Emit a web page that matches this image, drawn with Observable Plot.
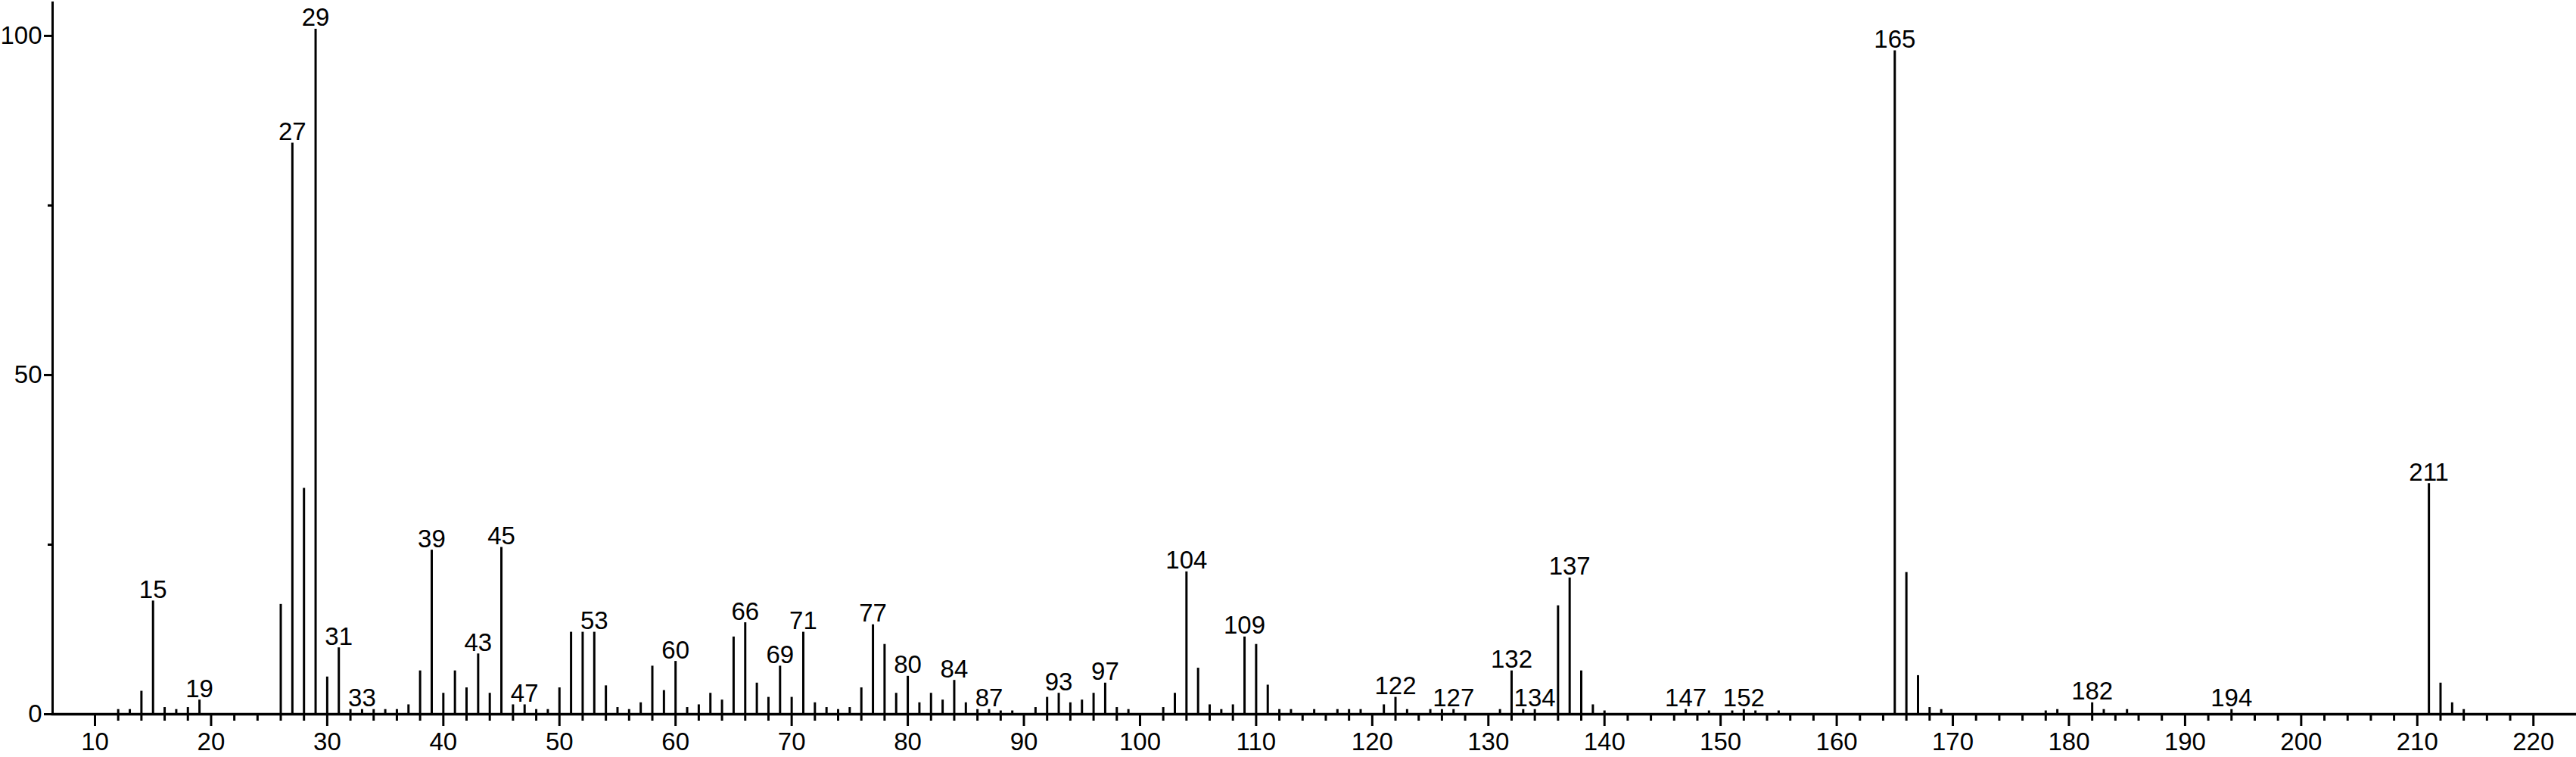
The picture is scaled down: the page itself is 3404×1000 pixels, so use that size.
<!DOCTYPE html>
<html>
<head>
<meta charset="utf-8">
<script src="https://cdn.jsdelivr.net/npm/d3@7"></script>
<script src="https://cdn.jsdelivr.net/npm/@observablehq/plot@0.6"></script>
<style>
  html, body { margin: 0; padding: 0; background: #fff; }
  #chart svg { display: block; }
</style>
</head>
<body>
<div id="chart"></div>
<script>
// m/z values of the peaks
const mz = [
  12, 13, 14, 15, 16, 17, 18, 19,
  26, 27, 28, 29, 30, 31, 32, 33, 34, 35, 36, 37, 38, 39,
  40, 41, 42, 43, 44, 45, 46, 47, 48, 49,
  50, 51, 52, 53, 54, 55, 56, 57, 58, 59,
  60, 61, 62, 63, 64, 65, 66, 67, 68, 69,
  70, 71, 72, 73, 74, 75, 76, 77, 78, 79,
  80, 81, 82, 83, 84, 85, 86, 87, 88, 89,
  91, 92, 93, 94, 95, 96, 97, 98, 99,
  102, 103, 104, 105, 106, 107, 108, 109,
  110, 111, 112, 113, 115, 117, 118, 119,
  121, 122, 123, 125, 126, 127, 131, 132, 133, 134,
  136, 137, 138, 139, 140,
  147, 149, 151, 152, 153, 155,
  165, 166, 167, 168, 169, 178, 179,
  182, 183, 185, 194,
  211, 212, 213, 214
];
// relative intensities (%)
const intensity = [
  0.7, 0.7, 3.4, 16.7, 1.0, 0.7, 1.0, 2.1,
  16.2, 84.2, 33.3, 101, 5.5, 9.8, 0.7, 0.7, 0.7, 0.7, 0.7, 1.4, 6.4, 24.2,
  3.1, 6.4, 3.9, 8.9, 3.1, 24.6, 1.4, 1.4, 0.7, 0.7,
  3.9, 12.1, 12.1, 12.1, 4.2, 1.0, 0.7, 1.7, 7.1, 3.5,
  7.8, 1.0, 1.4, 3.1, 2.1, 11.4, 13.5, 4.6, 2.5, 7.1,
  2.5, 12.1, 1.7, 1.0, 0.7, 1.0, 3.9, 13.2, 10.3, 3.1,
  5.6, 1.7, 3.1, 2.1, 5.0, 1.7, 0.7, 0.7, 0.5, 0.5,
  1.0, 2.5, 3.1, 1.7, 2.1, 3.1, 4.6, 1.0, 0.7,
  1.0, 3.1, 21.0, 6.8, 1.4, 0.7, 1.4, 11.4,
  10.3, 4.3, 0.7, 0.7, 0.7, 0.7, 0.7, 0.7,
  1.4, 2.5, 0.7, 0.7, 0.7, 0.7, 0.7, 6.4, 0.7, 0.7,
  16.0, 20.1, 6.4, 1.4, 0.5,
  0.7, 0.5, 0.5, 0.7, 0.5, 0.5,
  97.8, 20.9, 5.7, 1.0, 0.7, 0.5, 0.7,
  1.7, 0.7, 0.7, 0.7,
  34.0, 4.6, 1.7, 0.7
];
// peaks carrying an m/z label
const labeledMz = [15, 19, 27, 29, 31, 33, 39, 43, 45, 47, 53, 60, 66, 69, 71, 77, 80, 84, 87, 93, 97, 104, 109, 122, 127, 132, 134, 137, 147, 152, 165, 182, 194, 211];
// axis ticks
const xTicks = [10, 20, 30, 40, 50, 60, 70, 80, 90, 100, 110, 120, 130, 140, 150, 160, 170, 180, 190, 200, 210, 220];
const xMinorTicks = d3.range(12, 219, 2).filter(d => d % 10 !== 0);
const yTicks = [0, 50, 100];
const yMinorTicks = [25, 75];

const peaks = mz.map((m, i) => ({mz: m, intensity: intensity[i]}));
const labeled = peaks.filter(p => labeledMz.includes(p.mz));

const font = "'Liberation Sans', Arial, Helvetica, sans-serif";

const chart = Plot.plot({
  width: 3404,
  height: 1000,
  marginLeft: 69,
  marginRight: 0,
  marginTop: 3,
  marginBottom: 57,
  x: {domain: [6.35, 223.7]},
  y: {domain: [0, 104.9]},
  style: {fontFamily: font, fontSize: "33px", color: "#000", background: "#fff", overflow: "visible"},
  marks: [
    Plot.ruleX(peaks, {x: "mz", y1: 0, y2: "intensity", stroke: "#000", strokeWidth: 3}),
    Plot.frame({anchor: "left", stroke: "#000", strokeWidth: 3}),
    Plot.frame({anchor: "bottom", stroke: "#000", strokeWidth: 3.5}),
    Plot.axisX({ticks: xTicks, tickSize: 16, tickPadding: 8, strokeWidth: 3, fontSize: 33, label: null, tickFormat: d => String(d)}),
    Plot.axisX({ticks: xMinorTicks, tickSize: 9, strokeWidth: 3, text: null, label: null}),
    Plot.axisY({ticks: yTicks, tickSize: 11, tickPadding: 3, strokeWidth: 3, fontSize: 33, label: null, tickFormat: d => String(d)}),
    Plot.axisY({ticks: yMinorTicks, tickSize: 6, strokeWidth: 3, text: null, label: null}),
    Plot.text(labeled, {
      x: "mz", y: "intensity", text: d => String(d.mz),
      lineAnchor: "bottom", dy: -4, fontSize: 33, fill: "#000",
      stroke: "#fff", strokeWidth: 4
    })
  ]
});
document.getElementById("chart").appendChild(chart);
</script>
</body>
</html>
